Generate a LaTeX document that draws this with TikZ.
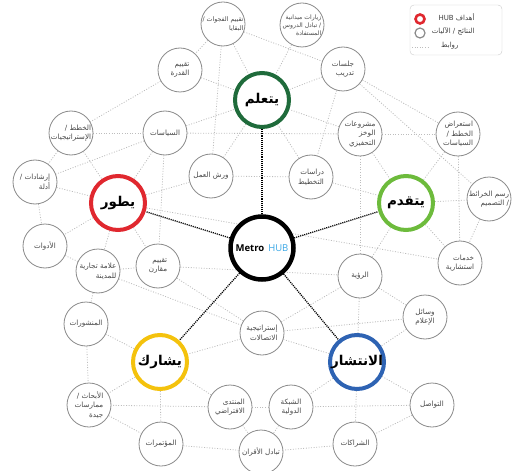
\documentclass[tikz,border=0pt]{standalone}
\usepackage{fontspec}
\setmainfont{Open Sans}
\newfontfamily\arabicfont[Script=Arabic]{DejaVu Sans}
\TeXXeTstate=1
\usetikzlibrary{backgrounds}

\definecolor{learncol}{HTML}{1F6B3B}
\definecolor{developcol}{HTML}{E0282F}
\definecolor{advancecol}{HTML}{6DBB3C}
\definecolor{sharecol}{HTML}{F4C20D}
\definecolor{spreadcol}{HTML}{2E63B3}
\definecolor{hubblue}{HTML}{38A7E6}
\definecolor{ringgrey}{HTML}{8A8A8A}
\definecolor{linkgrey}{HTML}{BDBDBD}

\newcommand{\ar}[1]{\beginR #1\endR}

\begin{document}
\begin{tikzpicture}[x=1pt,y=-1pt,
    item/.style={circle,draw=ringgrey,line width=0.8pt,fill=white,minimum size=44pt,
        inner sep=0pt,align=right,font=\arabicfont\fontsize{7.2}{9.6}\selectfont,text=black!72},
    hub/.style={circle,line width=4pt,fill=white,minimum size=54pt,inner sep=0pt,
        font=\arabicfont\bfseries\fontsize{13.5}{15}\selectfont},
    link/.style={linkgrey,line width=0.8pt,dash pattern=on 1pt off 1.6pt},
    spoke/.style={black,line width=1.3pt,dash pattern=on 1.1pt off 1pt}]
    \useasboundingbox (0,0) rectangle (518,470);

    % the centre and the five hubs
    \node[hub,draw=black,line width=4.5pt,minimum size=63pt,font=\fontsize{9.5}{11}\selectfont]
        (metro) at (262,248) {\textbf{Metro}\hspace{4pt}{\color{hubblue}HUB}};
    \node[hub,draw=learncol] (learn) at (262,100) {\ar{يتعلم}};
    \node[hub,draw=developcol] (develop) at (118,203) {\ar{يطور}};
    \node[hub,draw=advancecol] (advance) at (406,203) {\ar{يتقدم}};
    \node[hub,draw=sharecol] (share) at (160,362) {\ar{يشارك}};
    \node[hub,draw=spreadcol] (spread) at (357,362) {\ar{الانتشار}};

    % outputs / mechanisms
    \node[item,font=\arabicfont\fontsize{6.3}{8.6}\selectfont] (gaps) at (223,24)
        {\ar{تقييم الفجوات /}\\\ar{البقايا}};
    \node[item,font=\arabicfont\fontsize{6.1}{8.2}\selectfont] (visits) at (302,25)
        {\ar{زيارات ميدانية}\\\ar{/ تبادل الدروس}\\\ar{المستفادة}};
    \node[item] (capacity) at (180,70) {\ar{تقييم}\\\ar{القدرة}};
    \node[item] (training) at (343,69) {\ar{جلسات}\\\ar{تدريب}};
    \node[item] (plans) at (71,133) {\ar{الخطط /}\\\ar{الإستراتيجيات}};
    \node[item] (policies) at (165,133) {\ar{السياسات}};
    \node[item] (projects) at (360,134) {\ar{مشروعات}\\\ar{الوخز}\\\ar{التحفيزي}};
    \node[item] (review) at (458,134) {\ar{استعراض}\\\ar{الخطط /}\\\ar{السياسات}};
    \node[item] (workshops) at (211,176) {\ar{ورش العمل}};
    \node[item] (studies) at (311,177) {\ar{دراسات}\\\ar{التخطيط}};
    \node[item] (guides) at (35,182) {\ar{إرشادات /}\\\ar{أدلة}};
    \node[item] (mapping) at (489,199) {\ar{رسم الخرائط}\\\ar{/ التصميم}};
    \node[item] (tools) at (45,246) {\ar{الأدوات}};
    \node[item] (brand) at (98,271) {\ar{علامة تجارية}\\\ar{للمدينة}};
    \node[item] (benchmark) at (158,266) {\ar{تقييم}\\\ar{مقارن}};
    \node[item] (advisory) at (460,263) {\ar{خدمات}\\\ar{استشارية}};
    \node[item] (vision) at (360,276) {\ar{الرؤية}};
    \node[item] (pubs) at (86,324) {\ar{المنشورات}};
    \node[item] (commstrat) at (262,333) {\ar{إستراتيجية}\\\ar{الاتصالات}};
    \node[item] (media) at (425,317) {\ar{وسائل}\\\ar{الإعلام}};
    \node[item] (research) at (89,405) {\ar{الأبحاث /}\\\ar{ممارسات}\\\ar{جيدة}};
    \node[item] (forum) at (230,407) {\ar{المنتدى}\\\ar{الافتراضي}};
    \node[item] (intnet) at (291,407) {\ar{الشبكة}\\\ar{الدولية}};
    \node[item] (outreach) at (432,405) {\ar{التواصل}};
    \node[item] (conf) at (161,444) {\ar{المؤتمرات}};
    \node[item] (peer) at (261,452) {\ar{تبادل الأقران}};
    \node[item] (partners) at (355,444) {\ar{الشراكات}};

    % legend
    \node[draw=black!20,fill=white,rounded corners=4pt,minimum width=92pt,minimum height=50pt]
        (legend) at (456,30) {};
    \node[circle,draw=developcol,line width=2.6pt,minimum size=9pt,inner sep=0pt] (lhub) at (420,19) {};
    \node[circle,draw=ringgrey,line width=1.2pt,minimum size=10pt,inner sep=0pt] (litem) at (420,33) {};
    \coordinate (llinka) at (412,47);
    \coordinate (llinkb) at (430,47);
    \draw[link] (llinka) -- (llinkb);
    \begin{scope}[every node/.style={font=\arabicfont\fontsize{7}{8}\selectfont,text=black!75}]
        \node[anchor=east] (lhubtxt) at (478,17) {\ar{أهداف \beginL HUB\endL}};
        \node[anchor=east] (litemtxt) at (478,31) {\ar{النتائج / الآليات}};
        \node[anchor=east] (llinktxt) at (462,46) {\ar{روابط}};
    \end{scope}

    % links
    \begin{scope}[on background layer]
        \foreach \a/\b in {gaps/capacity,gaps/learn,gaps/training,gaps/workshops,
            visits/learn,capacity/learn,capacity/plans,
            training/learn,training/review,training/mapping,training/studies,
            plans/policies,plans/guides,plans/develop,
            policies/projects,policies/learn,policies/develop,policies/guides,policies/benchmark,
            projects/review,projects/advance,projects/vision,projects/learn,
            studies/learn,studies/workshops,studies/advance,
            workshops/learn,workshops/develop,
            review/advance,review/advisory,
            advance/mapping,advance/advisory,advance/vision,mapping/advisory,
            guides/develop,guides/tools,
            develop/tools,develop/brand,develop/benchmark,develop/advisory,
            tools/brand,brand/benchmark,brand/pubs,brand/commstrat,
            benchmark/commstrat,benchmark/vision,
            vision/media,vision/spread,vision/commstrat,
            commstrat/share,commstrat/spread,commstrat/media,media/spread,
            spread/outreach,spread/partners,spread/intnet,
            outreach/partners,outreach/intnet,
            partners/peer,intnet/peer,intnet/forum,forum/peer,forum/share,forum/research,
            share/pubs,share/research,share/conf,
            pubs/research,research/conf,conf/peer}
            \draw[link] (\a) -- (\b);
        \foreach \h in {learn,develop,advance,share,spread}
            \draw[spoke] (metro) -- (\h);
    \end{scope}
\end{tikzpicture}
\end{document}
